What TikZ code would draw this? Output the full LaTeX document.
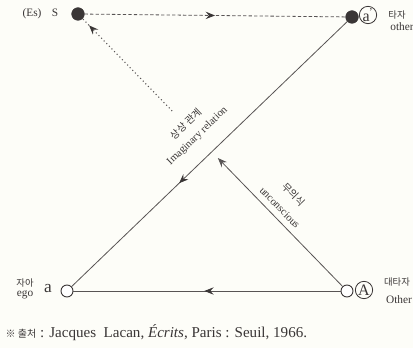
\documentclass[tikz,border=0pt]{standalone}
\usepackage{fontspec}
\setmainfont{Liberation Serif}
\newfontfamily\kor{Noto Sans CJK KR}
\usetikzlibrary{arrows.meta, decorations.markings, calc}
\definecolor{ink}{HTML}{3A3636}
\definecolor{paper}{HTML}{FDFDF8}

\begin{document}
\begin{tikzpicture}[
  x=0.75pt, y=-0.75pt,
  dot/.style={circle, fill=ink, draw=ink, minimum size=9.5pt, inner sep=0pt},
  hollow/.style={circle, draw=ink, fill=white, line width=0.7pt, minimum size=9pt, inner sep=0pt},
  ring/.style={circle, draw=ink, line width=0.6pt, minimum size=13pt, inner sep=0pt,
               text=ink, font=\fontsize{12}{12}\selectfont},
  lbl/.style={text=ink, inner sep=1pt, font=\fontsize{8.5}{9}\selectfont},
  klbl/.style={text=ink, inner sep=1pt, font=\kor\fontsize{7}{8}\selectfont},
  rel/.style={text=ink, inner sep=1pt, font=\fontsize{8}{9}\selectfont},
  krel/.style={text=ink, inner sep=1pt, font=\kor\fontsize{7.5}{9}\selectfont},
  capt/.style={text=ink, font=\fontsize{11.3}{12}\selectfont},
  line/.style={draw=ink!85, line width=0.6pt},
  dashline/.style={line, dash pattern=on 2.5pt off 1.6pt},
  dotline/.style={line, line width=0.8pt, dash pattern=on 0.8pt off 2pt},
  tip/.style={-{Stealth[length=7pt, width=5.5pt, inset=2.5pt]}},
  midarrow/.style={postaction={decorate}, decoration={markings,
      mark=at position #1 with {\arrow[ink]{Stealth[length=7pt, width=5.5pt, inset=2.5pt]}}}},
]
\useasboundingbox[fill=paper] (0,0) rectangle (413,348);

%% Nodes
\node[dot]    (S)      at (78,14)   {};
\node[dot]    (ap)     at (352,17)  {};
\node[ring]   (apring) at (368,15)  {a\textsuperscript{\kern-0.5pt'}};
\node[hollow] (a)      at (67,291)  {};
\node[hollow] (A)      at (347,291) {};
\node[ring]   (Aring)  at (364,290) {A};

%% Labels
\node[lbl]  (es)    at (32,14)  {(Es)};
\node[lbl]  (slbl)  at (55,13)  {S};
\node[klbl] (otherk) at (397,15) {타자};
\node[lbl]  (other) at (402,27) {other};
\node[text=ink, font=\fontsize{13}{13}\selectfont] (albl) at (48,289) {a};
\node[klbl] (egok)  at (25,283) {자아};
\node[lbl]  (ego)   at (25,295) {ego};
\node[klbl] (bigok) at (397,282) {대타자};
\node[lbl]  (bigo)  at (399,300) {Other};

%% Arrows
\draw[dashline, midarrow=0.5] (S) -- (ap);
\draw[line, midarrow=0.61] (ap) -- (a)
  node[rel, pos=0.49, sloped, above=11pt] {Imaginary relation}
  node[krel, pos=0.49, sloped, above=24pt] {상상 관계};
\draw[line, midarrow=0.51] (A) -- (a);

%% A towards S, broken at the imaginary axis
\coordinate (cutA) at ($(A)!0.48!(S)$);
\coordinate (cutB) at ($(A)!0.65!(S)$);
\draw[line, tip] (A) -- (cutA)
  node[rel, pos=0.56, sloped, above=3.5pt] {unconscious}
  node[krel, pos=0.56, sloped, above=17pt] {무의식};
\draw[dotline, midarrow=0.93] (cutB) -- (S);

%% Source
\node[capt, anchor=west] (src) at (1,333)
  {{\kor\fontsize{7.5}{9}\selectfont ※\ 출처} : Jacques\ \ Lacan, \textit{Écrits}, Paris : Seuil, 1966.};

\end{tikzpicture}
\end{document}
